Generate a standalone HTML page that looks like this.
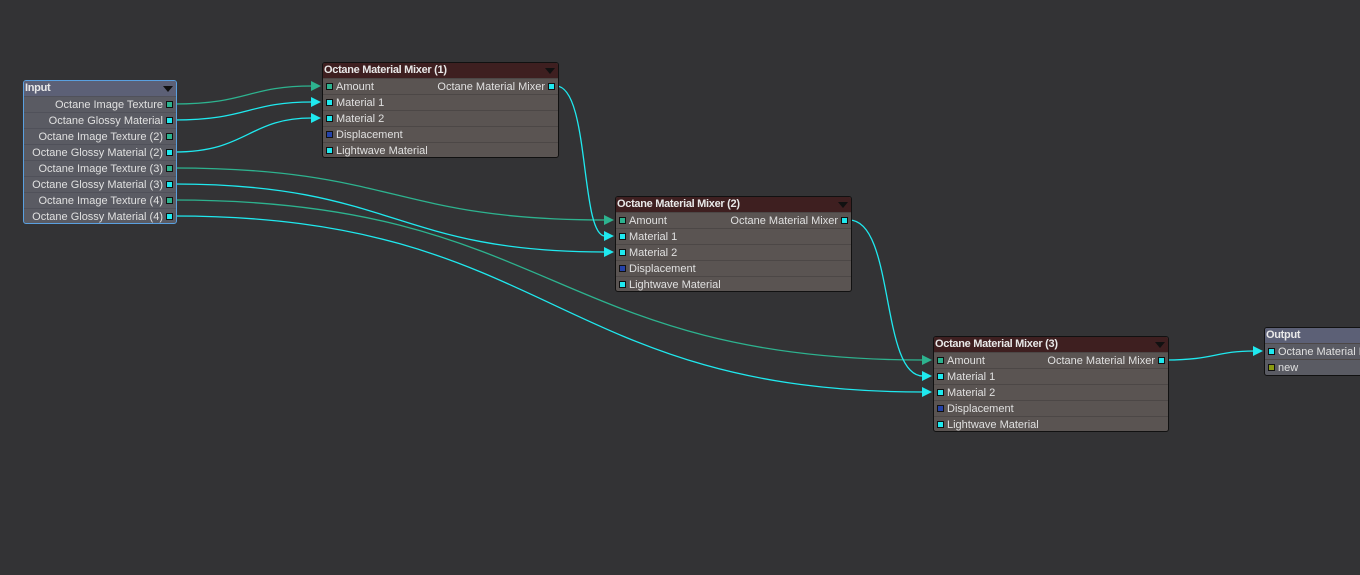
<!DOCTYPE html>
<html><head><meta charset="utf-8"><style>
body{margin:0;width:1360px;height:575px;background:#333335;overflow:hidden;position:relative;font-family:"Liberation Sans",Arial,sans-serif;}
svg{position:absolute;left:0;top:0}
.node{position:absolute;background:#5a5452;border:1px solid #111;border-radius:3px;box-sizing:border-box;overflow:hidden}
.hdr{height:15px;background:#3e1f20;color:#e8e8e8;font-weight:bold;font-size:11px;line-height:15px;padding-left:1px;position:relative;letter-spacing:-0.3px}
.hdr .tri{position:absolute;right:3px;top:5px;width:0;height:0;border-left:5px solid transparent;border-right:5px solid transparent;border-top:6px solid #111}
.row{height:16px;border-top:1px solid #4c4746;box-sizing:border-box;font-size:11px;color:#e0e0e0;line-height:16px;position:relative;white-space:nowrap}
.p{position:absolute;top:4px;width:5px;height:5px;border:1px solid #111}
.t{background:#2db38f}.c{background:#1fe9ef}.b{background:#2442a8}.g{background:#8a9a10}
.pl{left:3px}.pr{right:3px}
.sl{position:absolute;left:13px}.sr{position:absolute;right:13px}
.inp{background:#5a5b63;border:1px solid #5aa0e0}
.inp .hdr{background:#5c6076}
.inp .row{border-top-color:#50515a}
.out{background:#5a5b63}
.out .hdr{background:#5c6076}
</style></head><body>
<svg width="1360" height="575">
<g fill="none" stroke-width="1.3">
<path d="M174,104 C248,104 248,86 312,86" stroke="#2db38f"/>
<path d="M174,120 C248,120 248,102 312,102" stroke="#1fe9ef"/>
<path d="M174,152 C248,152 248,118 312,118" stroke="#1fe9ef"/>
<path d="M174,168 C394,168 394,220 605,220" stroke="#2db38f"/>
<path d="M174,184 C394,184 394,252 605,252" stroke="#1fe9ef"/>
<path d="M174,200 C553,200 553,360 923,360" stroke="#2db38f"/>
<path d="M174,216 C553,216 553,392 923,392" stroke="#1fe9ef"/>
<path d="M556,86 C590,86 580,236 605,236" stroke="#1fe9ef"/>
<path d="M849,220 C895,220 880,376 923,376" stroke="#1fe9ef"/>
<path d="M1166,360 C1215,360 1215,351 1254,351" stroke="#1fe9ef"/>
</g>
<g>
<polygon points="311,81 321,86 311,91" fill="#2db38f"/>
<polygon points="311,97 321,102 311,107" fill="#1fe9ef"/>
<polygon points="311,113 321,118 311,123" fill="#1fe9ef"/>
<polygon points="604,215 614,220 604,225" fill="#2db38f"/>
<polygon points="604,231 614,236 604,241" fill="#1fe9ef"/>
<polygon points="604,247 614,252 604,257" fill="#1fe9ef"/>
<polygon points="922,355 932,360 922,365" fill="#2db38f"/>
<polygon points="922,371 932,376 922,381" fill="#1fe9ef"/>
<polygon points="922,387 932,392 922,397" fill="#1fe9ef"/>
<polygon points="1253,346 1263,351 1253,356" fill="#1fe9ef"/>
</g>
</svg>

<div class="node inp" style="left:23px;top:80px;width:154px;height:144px">
<div class="hdr">Input<div class="tri"></div></div>
<div class="row"><span class="sr">Octane Image Texture</span><div class="p pr t"></div></div>
<div class="row"><span class="sr">Octane Glossy Material</span><div class="p pr c"></div></div>
<div class="row"><span class="sr">Octane Image Texture (2)</span><div class="p pr t"></div></div>
<div class="row"><span class="sr">Octane Glossy Material (2)</span><div class="p pr c"></div></div>
<div class="row"><span class="sr">Octane Image Texture (3)</span><div class="p pr t"></div></div>
<div class="row"><span class="sr">Octane Glossy Material (3)</span><div class="p pr c"></div></div>
<div class="row"><span class="sr">Octane Image Texture (4)</span><div class="p pr t"></div></div>
<div class="row"><span class="sr">Octane Glossy Material (4)</span><div class="p pr c"></div></div>
</div>

<div class="node" style="left:322px;top:62px;width:237px;height:96px">
<div class="hdr">Octane Material Mixer (1)<div class="tri"></div></div>
<div class="row"><div class="p pl t"></div><span class="sl">Amount</span><span class="sr">Octane Material Mixer</span><div class="p pr c"></div></div>
<div class="row"><div class="p pl c"></div><span class="sl">Material 1</span></div>
<div class="row"><div class="p pl c"></div><span class="sl">Material 2</span></div>
<div class="row"><div class="p pl b"></div><span class="sl">Displacement</span></div>
<div class="row"><div class="p pl c"></div><span class="sl">Lightwave Material</span></div>
</div>

<div class="node" style="left:615px;top:196px;width:237px;height:96px">
<div class="hdr">Octane Material Mixer (2)<div class="tri"></div></div>
<div class="row"><div class="p pl t"></div><span class="sl">Amount</span><span class="sr">Octane Material Mixer</span><div class="p pr c"></div></div>
<div class="row"><div class="p pl c"></div><span class="sl">Material 1</span></div>
<div class="row"><div class="p pl c"></div><span class="sl">Material 2</span></div>
<div class="row"><div class="p pl b"></div><span class="sl">Displacement</span></div>
<div class="row"><div class="p pl c"></div><span class="sl">Lightwave Material</span></div>
</div>

<div class="node" style="left:933px;top:336px;width:236px;height:96px">
<div class="hdr">Octane Material Mixer (3)<div class="tri"></div></div>
<div class="row"><div class="p pl t"></div><span class="sl">Amount</span><span class="sr">Octane Material Mixer</span><div class="p pr c"></div></div>
<div class="row"><div class="p pl c"></div><span class="sl">Material 1</span></div>
<div class="row"><div class="p pl c"></div><span class="sl">Material 2</span></div>
<div class="row"><div class="p pl b"></div><span class="sl">Displacement</span></div>
<div class="row"><div class="p pl c"></div><span class="sl">Lightwave Material</span></div>
</div>

<div class="node out" style="left:1264px;top:327px;width:110px;height:49px">
<div class="hdr">Output</div>
<div class="row"><div class="p pl c"></div><span class="sl">Octane Material Mixer</span></div>
<div class="row"><div class="p pl g"></div><span class="sl">new</span></div>
</div>
</body></html>
